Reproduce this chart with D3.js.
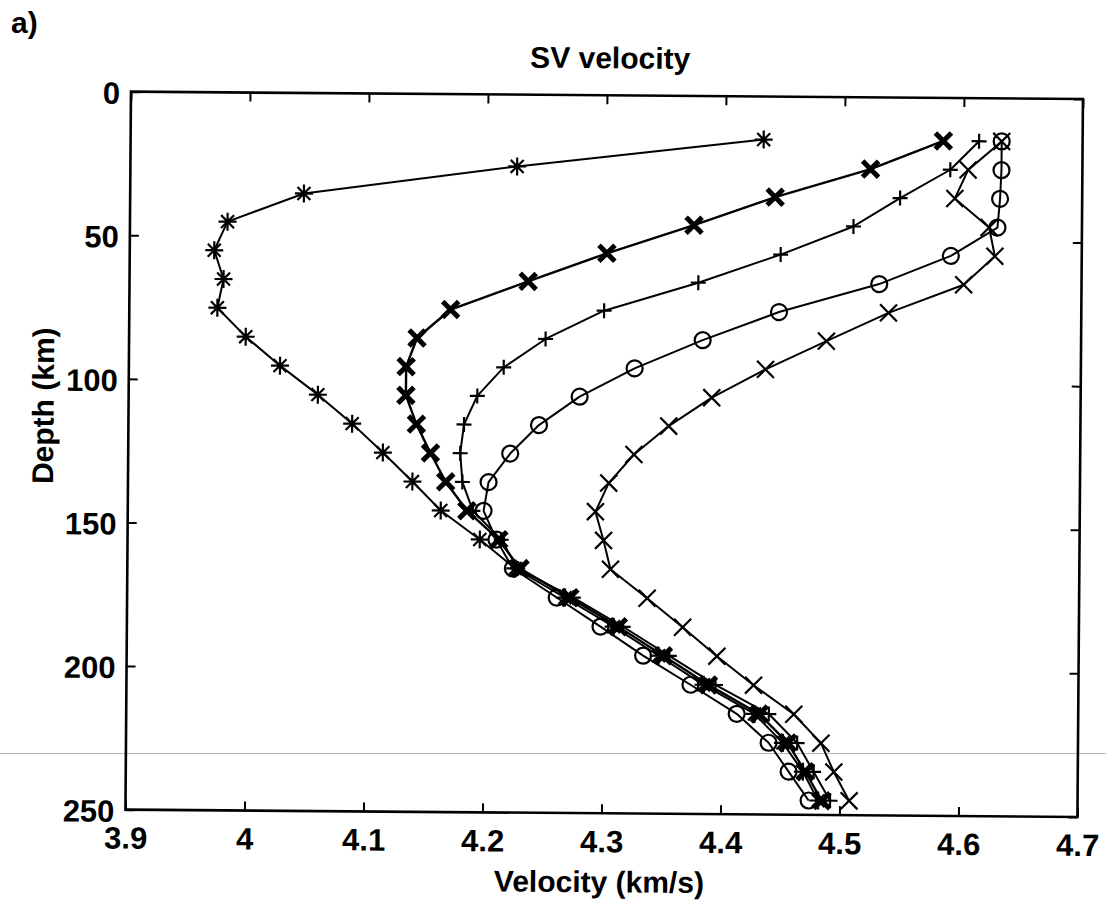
<!DOCTYPE html>
<html>
<head>
<meta charset="utf-8">
<script src="https://cdn.jsdelivr.net/npm/d3@7"></script>
<style>
  html, body { margin: 0; padding: 0; background: #fff; }
  svg { display: block; }
</style>
</head>
<body>
<svg id="chart" width="1106" height="908"></svg>
<script>
// Depth samples (km) shared by every profile
const depth = [15, 25, 35, 45, 55, 65, 75, 85, 95, 105, 115, 125,
               135, 145, 155, 165, 175, 185, 195, 205, 215, 225, 235, 245];

// SV velocity profiles (km/s), one per marker style
const vAsterisk = [4.432, 4.225, 4.046, 3.982, 3.971, 3.979, 3.974, 3.998, 4.027, 4.059, 4.088, 4.114,
                   4.139, 4.163, 4.196, 4.226, 4.268, 4.309, 4.347, 4.385, 4.428, 4.452, 4.469, 4.482];
const vBoldX    = [4.583, 4.522, 4.442, 4.374, 4.301, 4.235, 4.170, 4.142, 4.133, 4.133, 4.142, 4.154,
                   4.167, 4.185, 4.212, 4.230, 4.272, 4.313, 4.351, 4.389, 4.432, 4.456, 4.471, 4.485];
const vPlus     = [4.613, 4.589, 4.547, 4.508, 4.447, 4.378, 4.299, 4.250, 4.215, 4.193, 4.182, 4.179,
                   4.181, 4.190, 4.214, 4.228, 4.275, 4.317, 4.356, 4.395, 4.440, 4.464, 4.478, 4.492];
const vCircle   = [4.632, 4.632, 4.631, 4.629, 4.590, 4.530, 4.446, 4.382, 4.325, 4.279, 4.245, 4.221,
                   4.203, 4.199, 4.210, 4.224, 4.261, 4.298, 4.334, 4.374, 4.413, 4.440, 4.457, 4.474];
const vThinX    = [4.632, 4.604, 4.593, 4.622, 4.627, 4.601, 4.538, 4.486, 4.435, 4.390, 4.354, 4.325,
                   4.304, 4.293, 4.300, 4.306, 4.337, 4.367, 4.396, 4.427, 4.461, 4.484, 4.495, 4.508];

// Axis ticks
const xTicks = [3.9, 4.0, 4.1, 4.2, 4.3, 4.4, 4.5, 4.6, 4.7];
const xTickLabels = ["3.9", "4", "4.1", "4.2", "4.3", "4.4", "4.5", "4.6", "4.7"];
const yTicks = [0, 50, 100, 150, 200, 250];
const yTickLabels = ["0", "50", "100", "150", "200", "250"];

// Series: values + marker style
const series = [
  { values: vThinX,    marker: "x",        size: 8.5, mw: 2.2, lw: 2.0 },
  { values: vCircle,   marker: "circle",   size: 8,   mw: 2.2, lw: 2.0 },
  { values: vPlus,     marker: "plus",     size: 7.5, mw: 2.2, lw: 2.0 },
  { values: vAsterisk, marker: "asterisk", size: 9,   mw: 2.2, lw: 2.0 },
  { values: vBoldX,    marker: "x",        size: 8,   mw: 5.0, lw: 2.4 }
];

const FONT = "'Liberation Sans', Arial, Helvetica, sans-serif";

const svg = d3.select("#chart");

// Layout of the axes box
const boxCX = 604.2, boxCY = 454.3;      // box centre
const pw = 952, ph = 718;                // box size
const boxLeft = boxCX - pw / 2, boxTop = boxCY - ph / 2;
const tilt = 0.44;                       // slight clockwise tilt of the whole page (deg)

// faint horizontal rule across the sheet
svg.append("line")
  .attr("x1", 0).attr("x2", 1106)
  .attr("y1", 753.5).attr("y2", 753.5)
  .attr("stroke", "#b4b4b4").attr("stroke-width", 1);

function textStyle(sel, size) {
  return sel.attr("font-family", FONT)
    .attr("font-size", size)
    .attr("font-weight", "bold")
    .attr("fill", "#000");
}

// panel tag
textStyle(svg.append("text").attr("x", 11).attr("y", 33), 30).text("a)");

const root = svg.append("g").attr("transform", `rotate(${tilt}, ${boxCX}, ${boxCY})`);
const g = root.append("g").attr("transform", `translate(${boxLeft},${boxTop})`);

const x = d3.scaleLinear().domain([3.9, 4.7]).range([0, pw]);
const y = d3.scaleLinear().domain([0, 250]).range([0, ph]);

// Bottom axis with labels
const gx = g.append("g").attr("transform", `translate(0,${ph})`)
  .call(d3.axisBottom(x).tickValues(xTicks).tickSize(-9).tickSizeOuter(0)
        .tickFormat((d, i) => xTickLabels[i]));
gx.select(".domain").remove();
gx.selectAll("text").attr("y", 39).attr("dy", null);
textStyle(gx.selectAll("text"), 31);

// Top axis (ticks only)
const gxt = g.append("g")
  .call(d3.axisTop(x).tickValues(xTicks).tickSize(-9).tickSizeOuter(0).tickFormat(""));
gxt.select(".domain").remove();

// Left axis with labels
const gy = g.append("g")
  .call(d3.axisLeft(y).tickValues(yTicks).tickSize(-9).tickSizeOuter(0)
        .tickFormat((d, i) => yTickLabels[i]));
gy.select(".domain").remove();
gy.selectAll("text").attr("x", -11).attr("dy", "0.38em");
textStyle(gy.selectAll("text"), 31);

// Right axis (ticks only)
const gyr = g.append("g").attr("transform", `translate(${pw},0)`)
  .call(d3.axisRight(y).tickValues(yTicks).tickSize(-9).tickSizeOuter(0).tickFormat(""));
gyr.select(".domain").remove();

g.selectAll(".tick line").attr("stroke", "#000").attr("stroke-width", 2);

// Box
g.append("rect")
  .attr("x", 0).attr("y", 0).attr("width", pw).attr("height", ph)
  .attr("fill", "none").attr("stroke", "#000").attr("stroke-width", 2.6);

// Marker path generator
function markerPath(type, h) {
  if (type === "x") return `M${-h},${-h}L${h},${h}M${-h},${h}L${h},${-h}`;
  if (type === "plus") return `M${-h},0L${h},0M0,${-h}L0,${h}`;
  if (type === "asterisk") {
    const a = h * 0.72;
    return `M${-h},0L${h},0M0,${-h}L0,${h}M${-a},${-a}L${a},${a}M${-a},${a}L${a},${-a}`;
  }
  return "";
}

const line = d3.line().x(d => x(d.v)).y(d => y(d.d));

series.forEach(s => {
  const pts = s.values.map((v, i) => ({ v, d: depth[i] }));
  const sg = g.append("g");
  sg.append("path")
    .datum(pts)
    .attr("d", line)
    .attr("fill", "none")
    .attr("stroke", "#000")
    .attr("stroke-width", s.lw)
    .attr("stroke-linejoin", "round");
  if (s.marker === "circle") {
    sg.selectAll("circle").data(pts).join("circle")
      .attr("cx", d => x(d.v)).attr("cy", d => y(d.d)).attr("r", s.size)
      .attr("fill", "none").attr("stroke", "#000").attr("stroke-width", s.mw);
  } else {
    sg.selectAll("path.m").data(pts).join("path")
      .attr("class", "m")
      .attr("transform", d => `translate(${x(d.v)},${y(d.d)})`)
      .attr("d", markerPath(s.marker, s.size))
      .attr("fill", "none").attr("stroke", "#000").attr("stroke-width", s.mw);
  }
});

// Titles
textStyle(g.append("text")
  .attr("x", pw / 2 + 3).attr("y", -27)
  .attr("text-anchor", "middle"), 30)
  .text("SV velocity");

textStyle(g.append("text")
  .attr("x", pw / 2 - 2).attr("y", ph + 79)
  .attr("text-anchor", "middle"), 30)
  .text("Velocity (km/s)");

textStyle(g.append("text")
  .attr("transform", `translate(${-75},${410 - boxTop}) rotate(-90)`)
  .attr("text-anchor", "middle"), 30)
  .text("Depth (km)");
</script>
</body>
</html>
